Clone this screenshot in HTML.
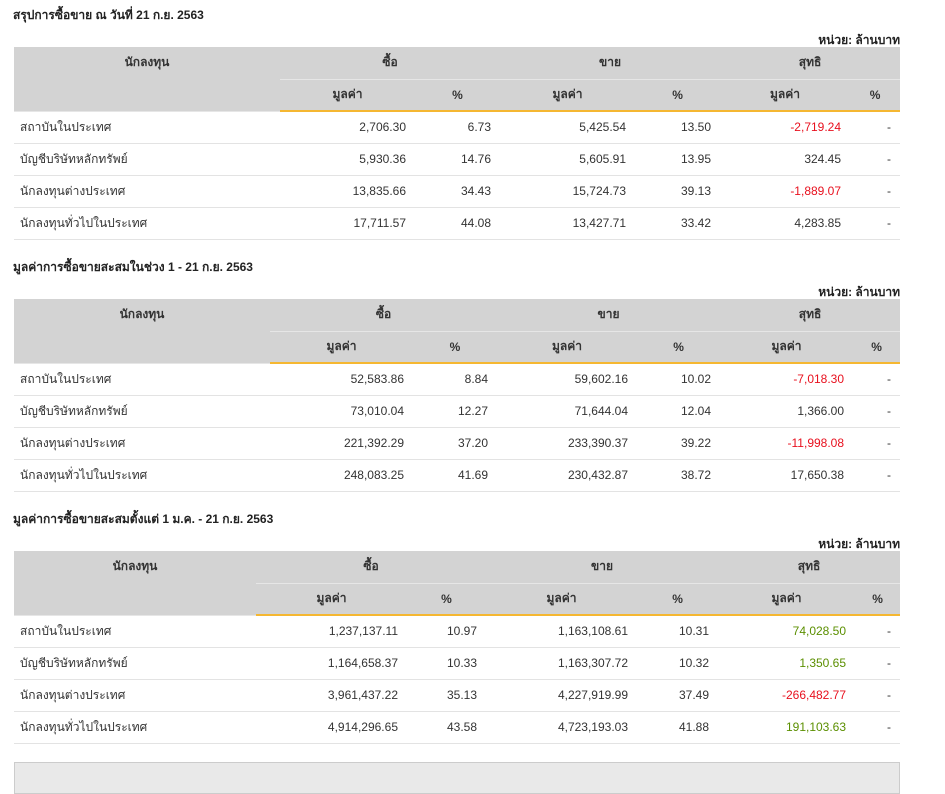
<!DOCTYPE html>
<html><head><meta charset="utf-8">
<style>
body{margin:0;width:945px;height:780px;overflow:hidden;background:#fff;font-family:"Liberation Sans","DejaVu Sans",sans-serif;font-size:12px;color:#333;position:relative}
.title{position:absolute;left:13px;font-weight:bold;font-size:12px;color:#222}
.unit{position:absolute;right:45px;font-weight:bold;font-size:12px;color:#222}
table{position:absolute;left:14px;width:886px;border-collapse:collapse;table-layout:fixed}
th{background:#d3d3d3;font-weight:bold;color:#333;height:32px;padding:0;text-align:center;box-sizing:border-box}
tr.h1 th{border-bottom:1px solid #e6e6e6}
tr.h2 th.s{border-bottom:2px solid #f5b731}
td{height:32px;box-sizing:border-box;border-bottom:1px solid #e3e3e3;padding:0 9px 0 0;text-align:right;white-space:nowrap}
td.n{text-align:left;padding-left:6px}
.neg{color:#e8101e}.pos{color:#5b8f00}
.box{position:absolute;left:14px;top:762px;width:884px;height:30px;background:#e9e9e9;border:1px solid #ccc}
</style></head><body>

<div class="title" style="top:6px">สรุปการซื้อขาย ณ วันที่ 21 ก.ย. 2563</div>
<div class="unit" style="top:31px">หน่วย: ล้านบาท</div>
<table style="top:47px">
<colgroup><col style="width:266px"><col style="width:135px"><col style="width:85px"><col style="width:135px"><col style="width:85px"><col style="width:130px"><col style="width:50px"></colgroup>
<tr class="h1"><th rowspan="2" style="vertical-align:top;padding-top:6px">นักลงทุน</th><th colspan="2">ซื้อ</th><th colspan="2">ขาย</th><th colspan="2">สุทธิ</th></tr>
<tr class="h2"><th class="s">มูลค่า</th><th class="s">%</th><th class="s">มูลค่า</th><th class="s">%</th><th class="s">มูลค่า</th><th class="s">%</th></tr>
<tr><td class="n">สถาบันในประเทศ</td><td>2,706.30</td><td>6.73</td><td>5,425.54</td><td>13.50</td><td class="neg">-2,719.24</td><td>-</td></tr>
<tr><td class="n">บัญชีบริษัทหลักทรัพย์</td><td>5,930.36</td><td>14.76</td><td>5,605.91</td><td>13.95</td><td>324.45</td><td>-</td></tr>
<tr><td class="n">นักลงทุนต่างประเทศ</td><td>13,835.66</td><td>34.43</td><td>15,724.73</td><td>39.13</td><td class="neg">-1,889.07</td><td>-</td></tr>
<tr><td class="n">นักลงทุนทั่วไปในประเทศ</td><td>17,711.57</td><td>44.08</td><td>13,427.71</td><td>33.42</td><td>4,283.85</td><td>-</td></tr>
</table>

<div class="title" style="top:258px">มูลค่าการซื้อขายสะสมในช่วง 1 - 21 ก.ย. 2563</div>
<div class="unit" style="top:283px">หน่วย: ล้านบาท</div>
<table style="top:299px">
<colgroup><col style="width:256px"><col style="width:143px"><col style="width:84px"><col style="width:140px"><col style="width:83px"><col style="width:133px"><col style="width:47px"></colgroup>
<tr class="h1"><th rowspan="2" style="vertical-align:top;padding-top:6px">นักลงทุน</th><th colspan="2">ซื้อ</th><th colspan="2">ขาย</th><th colspan="2">สุทธิ</th></tr>
<tr class="h2"><th class="s">มูลค่า</th><th class="s">%</th><th class="s">มูลค่า</th><th class="s">%</th><th class="s">มูลค่า</th><th class="s">%</th></tr>
<tr><td class="n">สถาบันในประเทศ</td><td>52,583.86</td><td>8.84</td><td>59,602.16</td><td>10.02</td><td class="neg">-7,018.30</td><td>-</td></tr>
<tr><td class="n">บัญชีบริษัทหลักทรัพย์</td><td>73,010.04</td><td>12.27</td><td>71,644.04</td><td>12.04</td><td>1,366.00</td><td>-</td></tr>
<tr><td class="n">นักลงทุนต่างประเทศ</td><td>221,392.29</td><td>37.20</td><td>233,390.37</td><td>39.22</td><td class="neg">-11,998.08</td><td>-</td></tr>
<tr><td class="n">นักลงทุนทั่วไปในประเทศ</td><td>248,083.25</td><td>41.69</td><td>230,432.87</td><td>38.72</td><td>17,650.38</td><td>-</td></tr>
</table>

<div class="title" style="top:510px">มูลค่าการซื้อขายสะสมตั้งแต่ 1 ม.ค. - 21 ก.ย. 2563</div>
<div class="unit" style="top:535px">หน่วย: ล้านบาท</div>
<table style="top:551px">
<colgroup><col style="width:242px"><col style="width:151px"><col style="width:79px"><col style="width:151px"><col style="width:81px"><col style="width:137px"><col style="width:45px"></colgroup>
<tr class="h1"><th rowspan="2" style="vertical-align:top;padding-top:6px">นักลงทุน</th><th colspan="2">ซื้อ</th><th colspan="2">ขาย</th><th colspan="2">สุทธิ</th></tr>
<tr class="h2"><th class="s">มูลค่า</th><th class="s">%</th><th class="s">มูลค่า</th><th class="s">%</th><th class="s">มูลค่า</th><th class="s">%</th></tr>
<tr><td class="n">สถาบันในประเทศ</td><td>1,237,137.11</td><td>10.97</td><td>1,163,108.61</td><td>10.31</td><td class="pos">74,028.50</td><td>-</td></tr>
<tr><td class="n">บัญชีบริษัทหลักทรัพย์</td><td>1,164,658.37</td><td>10.33</td><td>1,163,307.72</td><td>10.32</td><td class="pos">1,350.65</td><td>-</td></tr>
<tr><td class="n">นักลงทุนต่างประเทศ</td><td>3,961,437.22</td><td>35.13</td><td>4,227,919.99</td><td>37.49</td><td class="neg">-266,482.77</td><td>-</td></tr>
<tr><td class="n">นักลงทุนทั่วไปในประเทศ</td><td>4,914,296.65</td><td>43.58</td><td>4,723,193.03</td><td>41.88</td><td class="pos">191,103.63</td><td>-</td></tr>
</table>

<div class="box"></div>
</body></html>
